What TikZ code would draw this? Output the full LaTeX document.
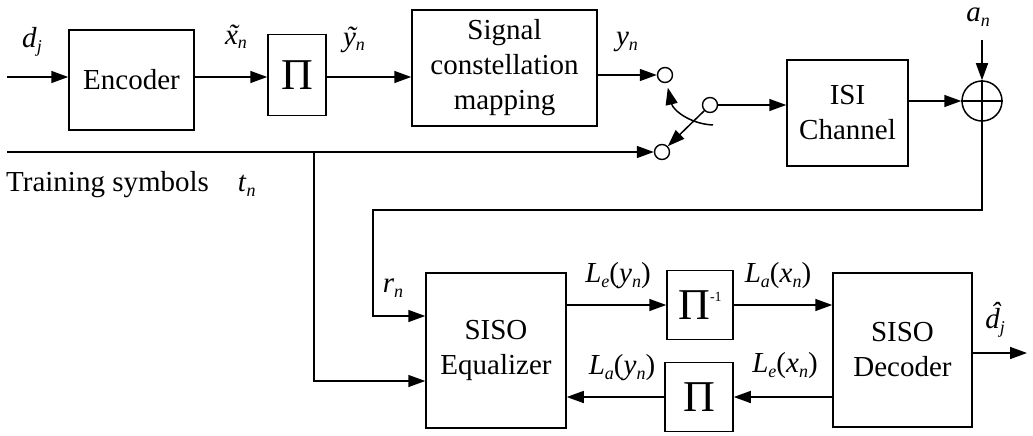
\documentclass[tikz,border=0pt]{standalone}
\usepackage{fontspec}
\setmainfont{Liberation Serif}
\usetikzlibrary{positioning, calc, arrows.meta}
\newcommand{\sub}[2]{\textit{#1}\raisebox{-0.35ex}{\fontsize{18}{18}\selectfont\textit{#2}}}
\newcommand{\tildeof}[1]{\ooalign{#1\cr\hidewidth\kern0.1em\char"02DC\hidewidth\cr}}
\newcommand{\hatof}[1]{\ooalign{#1\cr\hidewidth\kern0.2em\raisebox{0.22em}{\char"02C6}\hidewidth\cr}}

\begin{document}
\begin{tikzpicture}[
				x=1pt, y=-1pt,
				>={Triangle[length=17pt,width=12pt]},
				blk/.style={rectangle, draw=black, line width=1.5pt, fill=white, align=center, inner sep=0pt, font=\fontsize{29}{35}\selectfont},
				perm/.style={blk, font=\fontsize{44}{44}\selectfont},
				contact/.style={circle, draw=black, line width=1.4pt, fill=white, minimum size=15pt, inner sep=0pt},
				adder/.style={circle, draw=black, line width=1.5pt, minimum size=40pt, inner sep=0pt},
				arr/.style={->, line width=1.5pt},
				lbl/.style={inner sep=0pt, font=\fontsize{29}{35}\selectfont}
			]
			\useasboundingbox (0,0) rectangle (1033,436);

			% Transmitter
			\node[blk, minimum width=125pt, minimum height=100pt] (enc) at (131.5,80) {Encoder};
			\node[perm, minimum width=58pt, minimum height=81pt] (pi1) at (297,75) {Π};
			\node[blk, minimum width=185pt, minimum height=116pt] (map) at (504.5,68) {Signal\\constellation\\mapping};
			\coordinate (din) at (7,77);
			\draw[arr] (din) -- (din -| enc.west);
			\draw[arr] (enc.east |- din) -- (din -| pi1.west);
			\draw[arr] (pi1.east |- din) -- (din -| map.west);
			\node[lbl] (l_dj) at (32,42) {\sub{d}{j}};
			\node[lbl] (l_xt) at (236,40) {\sub{\tildeof{x}}{n}};
			\node[lbl] (l_yt) at (354,42) {\sub{\tildeof{y}}{n}};
			\node[lbl] (l_yn) at (627,42) {\sub{y}{n}};

			% Switch and channel
			\node[contact] (ctop) at (665,75) {};
			\node[contact] (cbot) at (662,152) {};
			\node[contact] (cmid) at (710,105) {};
			\node[blk, minimum width=121pt, minimum height=106pt] (isi) at (847.5,113) {ISI\\Channel};
			\node[adder] (add) at (982,101) {};
			\draw[line width=1.5pt] (add.north) -- (add.south) (add.west) -- (add.east);
			\draw[arr] (map.east |- ctop) -- (ctop.west);
			\draw[arr] (cmid.south west) -- (cbot.north east);
			\draw[arr] (713,125) .. controls (690,124) and (673,110) .. ([yshift=-5pt]ctop.-70);
			\draw[arr] (cmid.east) -- (cmid -| isi.west);
			\draw[arr] (isi.east |- add) -- (add.west);
			\coordinate (ain) at (982,40);
			\draw[arr] (ain) -- (add.north);
			\node[lbl] (l_an) at (978,17) {\sub{a}{n}};

			% Training symbols
			\coordinate (tsrc) at (7,152);
			\coordinate (tdn) at (314,381);
			\draw[arr] (tsrc) -- (cbot.west);
			\node[lbl, anchor=west] (l_train) at (6,185) {Training symbols\quad\sub{t}{n}};

			% Receiver
			\node[blk, minimum width=140pt, minimum height=155pt] (eq) at (496,350.5) {SISO\\Equalizer};
			\node[perm, minimum width=66pt, minimum height=69pt] (pinv) at (700,305) {Π\raisebox{0.9ex}{\fontsize{14}{14}\selectfont -1}};
			\node[perm, minimum width=68pt, minimum height=69pt] (pib) at (699,397) {Π};
			\node[blk, minimum width=139pt, minimum height=154pt] (dec) at (902.5,350) {SISO\\Decoder};
			\coordinate (fb) at (373,210);
			\coordinate (rn) at (373,316);
			\draw[arr] (add.south) |- (fb) -- (rn) -- (rn -| eq.west);
			\draw[arr] (tdn |- tsrc) -- (tdn) -- (tdn -| eq.west);
			\draw[arr] (eq.east |- pinv) -- (pinv.west);
			\draw[arr] (pinv.east) -- (pinv -| dec.west);
			\draw[arr] (dec.west |- pib) -- (pib.east);
			\draw[arr] (pib.west) -- (pib -| eq.east);
			\coordinate (dout) at (1027,353);
			\draw[arr] (dec.east |- dout) -- (dout);
			\node[lbl] (l_rn) at (393,288) {\sub{r}{n}};
			\node[lbl] (l_ley) at (618,276) {\sub{L}{e}(\sub{y}{n})};
			\node[lbl] (l_lax) at (778,276) {\sub{L}{a}(\sub{x}{n})};
			\node[lbl] (l_lay) at (622,368) {\sub{L}{a}(\sub{y}{n})};
			\node[lbl] (l_lex) at (785,366) {\sub{L}{e}(\sub{x}{n})};
			\node[lbl] (l_dh) at (995,323) {\sub{\hatof{d}}{j}};

		\end{tikzpicture}
\end{document}
